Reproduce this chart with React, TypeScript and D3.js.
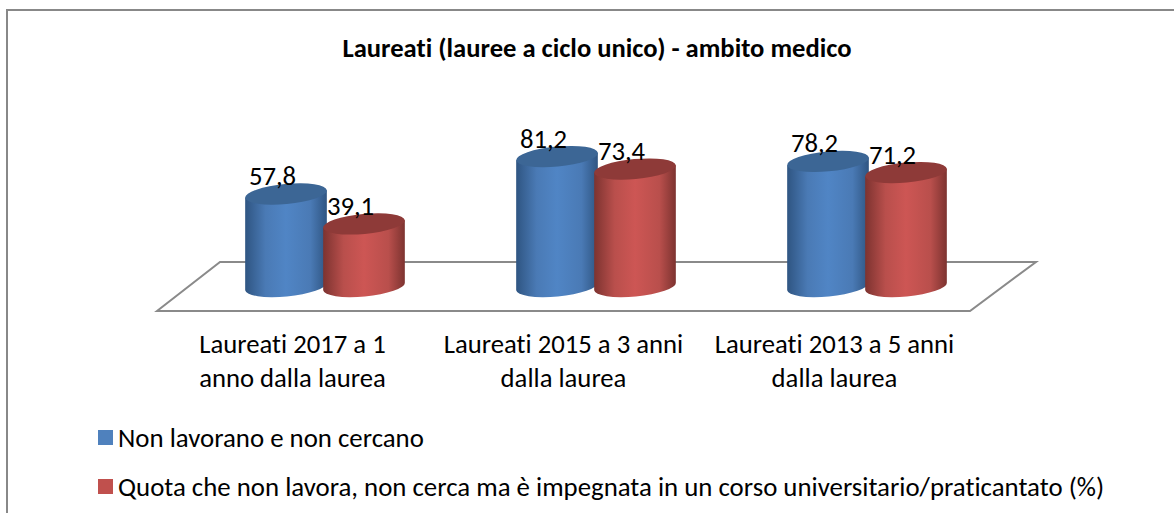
import React from "react";
import * as d3 from "d3";

const categories = [
  ["Laureati 2017 a 1", "anno dalla laurea"],
  ["Laureati 2015 a 3 anni", "dalla laurea"],
  ["Laureati 2013 a 5 anni", "dalla laurea"],
];
const seriesA = [57.8, 81.2, 78.2];
const seriesB = [39.1, 73.4, 71.2];
const legendLabels = [
  "Non lavorano e non cercano",
  "Quota che non lavora, non cerca ma è impegnata in un corso universitario/praticantato (%)",
];
const title = "Laureati (lauree a ciclo unico) - ambito medico";
const fontStack = "Carlito, Calibri, 'Open Sans', 'Noto Sans', sans-serif";

const W = 1174, H = 513;
const x0 = d3.scaleBand<number>().domain([0, 1, 2]).range([157, 970]);
const y = d3.scaleLinear().domain([0, 100]).range([286.5, 126.5]);
const rx = 41, ry = 10, tilt = -5.3;
const depth = 32.5, gap = 39;

const palette = [
  { id: "gA", top: "#3c6695", stops: ["#2f5582", "#4a7ab5", "#5085c5", "#4a7ab5", "#2f5582"], legend: "#4f81bd" },
  { id: "gB", top: "#8e3a38", stops: ["#7d3330", "#b94f4c", "#cd5654", "#b94f4c", "#7d3330"], legend: "#c0504d" },
];

function Cyl({ cx, value, p }: { cx: number; value: number; p: typeof palette[number] }) {
  const yB = y(0), yT = y(value);
  const a = (tilt * Math.PI) / 180;
  const dx = rx * Math.cos(a), dy = rx * Math.sin(a);
  const body = `M${cx - dx},${yT - dy} L${cx - dx},${yB - dy} A${rx},${ry} ${tilt} 0 0 ${cx + dx},${yB + dy} L${cx + dx},${yT + dy} Z`;
  return (
    <g>
      <path d={body} fill={`url(#${p.id})`} />
      <ellipse cx={cx} cy={yT} rx={rx} ry={ry} transform={`rotate(${tilt} ${cx} ${yT})`} fill={p.top} />
    </g>
  );
}

export default function App() {
  const centers = [0, 1, 2].map((i) => (x0(i) as number) + x0.bandwidth() / 2);
  const fmt = (v: number) => v.toFixed(1).replace(".", ",");
  return (
    <svg width={W} height={H} style={{ position: "absolute", left: 0, top: 0, background: "#fff", fontVariantLigatures: "none" }} fontFamily={fontStack}>
      <defs>
        {palette.map((p) => (
          <linearGradient key={p.id} id={p.id} x1="0" x2="1" y1="0" y2="0">
            {p.stops.map((s, i) => (
              <stop key={i} offset={[0, 0.25, 0.5, 0.8, 1][i]} stopColor={s} />
            ))}
          </linearGradient>
        ))}
      </defs>
      <path d={`M7,${H} L7,10 L${W},10`} fill="none" stroke="#888" strokeWidth={2} />
      <text x={597} y={57} textAnchor="middle" fontSize={26.6} fontWeight={700} fill="#000">{title}</text>
      <path d="M157,311 L220,262 L1036,262 L970,311 Z" fill="#fff" stroke="#8a8a8a" strokeWidth={2} />
      {centers.map((c, i) => (
        <g key={i}>
          <Cyl cx={c + depth - gap} value={seriesA[i]} p={palette[0]} />
          <Cyl cx={c + depth + gap} value={seriesB[i]} p={palette[1]} />
          {categories[i].map((l, k) => (
            <text key={k} x={c} y={353 + k * 34} textAnchor="middle" fontSize={26.7} fill="#000">{l}</text>
          ))}
        </g>
      ))}
      {centers.map((c, i) => (
        <g key={i}>
          <text x={c + depth - gap - 13.5} y={y(seriesA[i]) - 9} textAnchor="middle" fontSize={26.7} fill="#000">{fmt(seriesA[i])}</text>
          <text x={c + depth + gap - 13.5} y={y(seriesB[i]) - 9} textAnchor="middle" fontSize={26.7} fill="#000">{fmt(seriesB[i])}</text>
        </g>
      ))}
      {legendLabels.map((l, i) => (
        <g key={i}>
          <rect x={98} y={430 + i * 49} width={15} height={15} fill={palette[i].legend} />
          <text x={118} y={447 + i * 48.5} fontSize={26.84} fill="#000">{l}</text>
        </g>
      ))}
    </svg>
  );
}
